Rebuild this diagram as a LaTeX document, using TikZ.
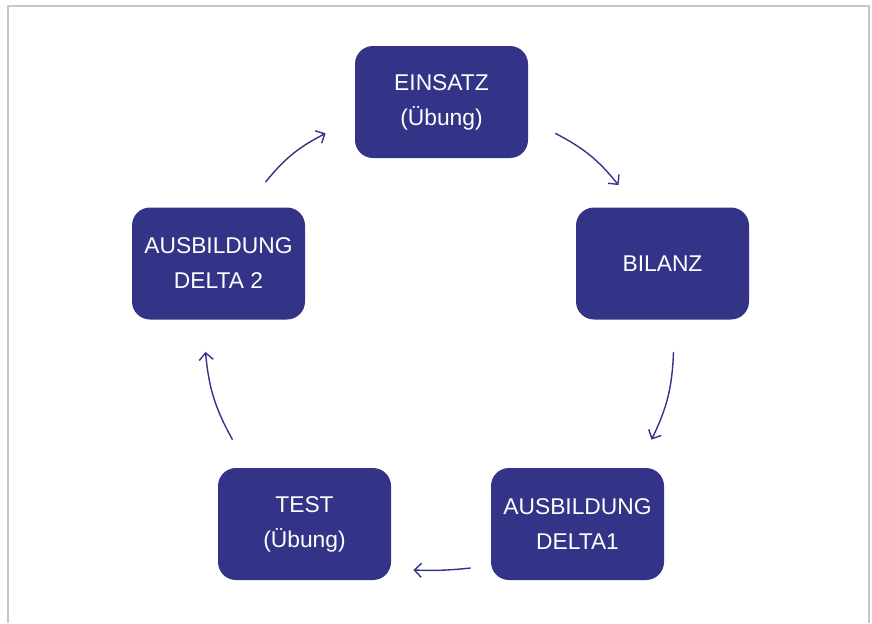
\documentclass[tikz,border=0pt]{standalone}
\usepackage{fontspec}
\setmainfont{Liberation Sans}
\usepackage{tikz}
\usetikzlibrary{calc,arrows.meta,positioning}
\definecolor{deltablue}{RGB}{51,51,135}
\definecolor{framegray}{RGB}{200,200,200}

\begin{document}
\begin{tikzpicture}[x=0.5pt,y=-0.5pt,>={Straight Barb[length=3.5pt,width=7pt]},%
	stage/.style={rectangle,fill=deltablue,rounded corners=9pt,%
		minimum width=86.5pt,minimum height=56pt,align=center,%
		text=white,font=\fontsize{11.4}{17.5}\selectfont},%
	arr/.style={->,draw=deltablue,line width=0.7pt}]
	\useasboundingbox (0,0) rectangle (872,623);
	% frame
	\draw[framegray,line width=1pt] (8,623) -- (8,6) -- (869,6) -- (869,623);
	% stages
	\node[stage] (ein) at (441.5,102) {EINSATZ\\(Übung)};
	\node[stage] (bil) at (662.5,263.5) {BILANZ};
	\node[stage] (dl1) at (577.5,524) {AUSBILDUNG\\DELTA1};
	\node[stage] (tst) at (304.5,524) {TEST\\(Übung)};
	\node[stage] (dl2) at (218.5,263.5) {AUSBILDUNG\\DELTA 2};
	% cycle
	\draw[arr] ($(ein.south east)+(27,-25)$) to[bend left=12] ($(bil.north)+(-44,-22)$);
	\draw[arr] ($(bil.south)+(11,32)$) to[bend left=12] ($(dl1.north)+(74,-28)$);
	\draw[arr] ($(dl1.west)+(-20,44)$) to[bend left=4] ($(tst.east)+(22,46)$);
	\draw[arr] ($(tst.north)+(-72,-28)$) to[bend left=12] ($(dl2.south)+(-13,32)$);
	\draw[arr] ($(dl2.north)+(47,-25)$) to[bend left=12] ($(ein.south west)+(-29,-25)$);
\end{tikzpicture}
\end{document}
